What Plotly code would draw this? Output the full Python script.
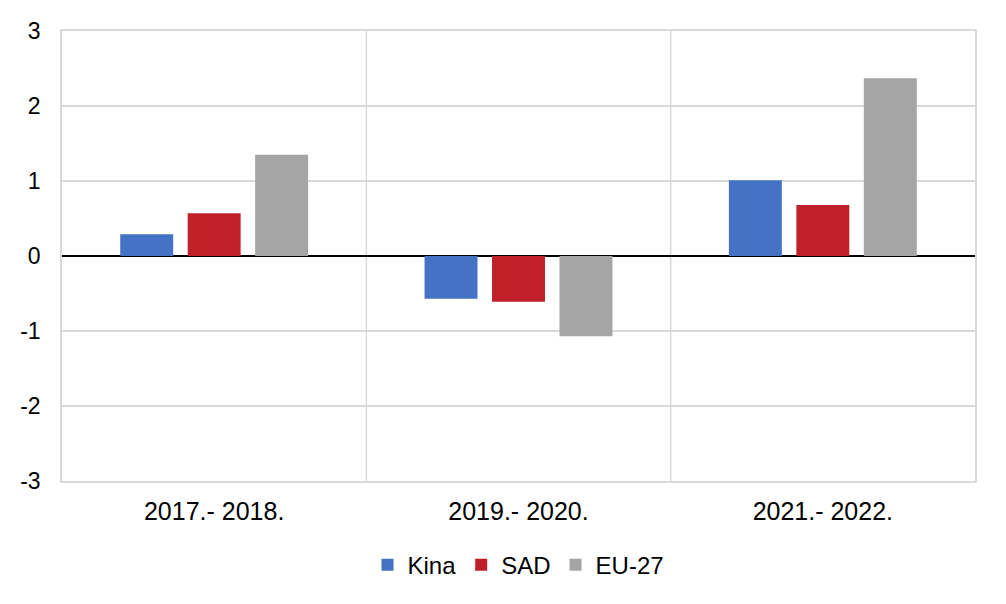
import plotly.graph_objects as go

categories = ["2017.- 2018.", "2019.- 2020.", "2021.- 2022."]
kina = [0.29, -0.57, 1.01]
sad = [0.57, -0.61, 0.68]
eu27 = [1.35, -1.07, 2.37]
series_names = ["Kina", "SAD", "EU-27"]
colors = ["#4472C4", "#C0202A", "#A5A5A5"]
y_ticks = [-3, -2, -1, 0, 1, 2, 3]
y_labels = ["-3", "-2", "-1", "0", "1", "2", "3"]

fig = go.Figure()
for name, vals, col in zip(series_names, [kina, sad, eu27], colors):
    fig.add_trace(go.Bar(x=categories, y=vals, name=name, marker=dict(color=col, line=dict(width=0))))

# vertical separators between categories
for i in range(1, len(categories)):
    fig.add_shape(type="line", xref="x", yref="paper", x0=i - 0.5, x1=i - 0.5, y0=0, y1=1,
                  line=dict(color="#D9D9D9", width=1.5), layer="below")

fig.update_layout(
    width=998, height=596,
    margin=dict(l=54, r=31, t=23, b=123, autoexpand=False),
    paper_bgcolor="white", plot_bgcolor="white",
    font=dict(family="Liberation Sans, Arial, sans-serif", color="black"),
    barmode="group", bargap=0.335, bargroupgap=0.215,
    showlegend=True,
    legend=dict(orientation="h", x=0.5, xanchor="center", y=-0.187, yanchor="middle",
                font=dict(size=24), itemwidth=30, traceorder="normal"),
    xaxis=dict(showgrid=False, showline=True, mirror=True, linecolor="#D9D9D9", linewidth=1.5,
               zeroline=False, ticks="", tickfont=dict(size=25), range=[-0.5, 2.5],
               ticklabelstandoff=7, automargin=False),
    yaxis=dict(range=[-3, 3], tickvals=y_ticks, ticktext=y_labels, showgrid=True,
               gridcolor="#D9D9D9", gridwidth=1.5,
               showline=True, mirror=True, linecolor="#D9D9D9", linewidth=1.5,
               zeroline=True, zerolinecolor="black", zerolinewidth=1.5,
               tickfont=dict(size=23), ticklabelstandoff=15, automargin=False),
)
fig.write_html("out.html")
